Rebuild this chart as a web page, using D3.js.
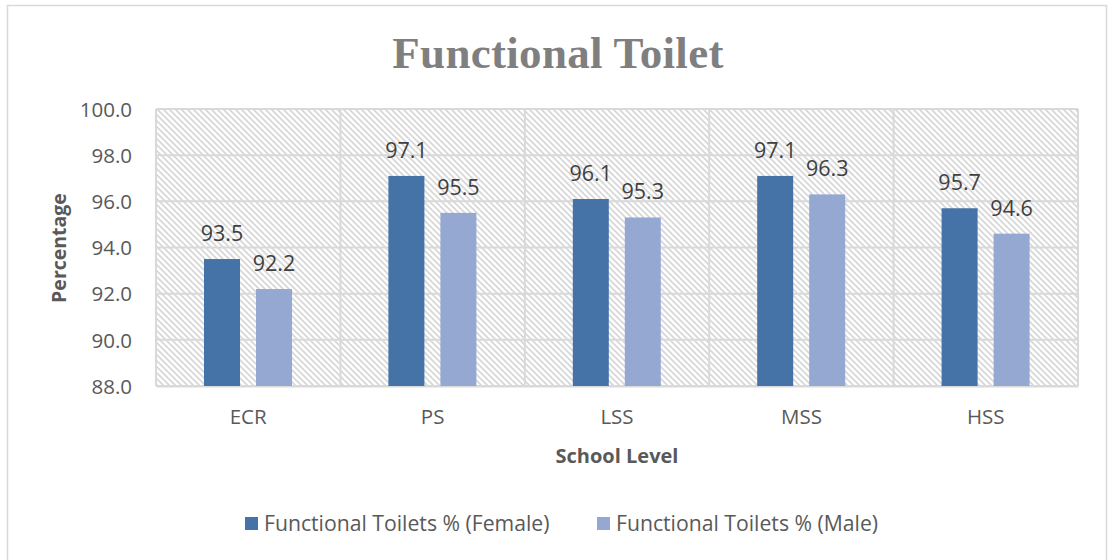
<!DOCTYPE html>
<html>
<head>
<meta charset="utf-8">
<script src="https://cdn.jsdelivr.net/npm/d3@7"></script>
<style>
  html, body { margin: 0; padding: 0; background: #fff; }
  svg { display: block; }
</style>
</head>
<body>
<svg id="chart" width="1110" height="560"></svg>
<script>
const categories = ["ECR", "PS", "LSS", "MSS", "HSS"];
const seriesNames = ["Functional Toilets % (Female)", "Functional Toilets % (Male)"];
const femaleValues = [93.5, 97.1, 96.1, 97.1, 95.7];
const maleValues = [92.2, 95.5, 95.3, 96.3, 94.6];
const yTicks = [88, 90, 92, 94, 96, 98, 100];
const colors = ["#4572a7", "#94a8d1"];

const svg = d3.select("#chart");
const font = "'Open Sans', 'Noto Sans', sans-serif";
const textColor = "#595959";

// Outer chart border
svg.append("rect").attr("x", 7.5).attr("y", 5.5).attr("width", 1099).attr("height", 560)
  .attr("fill", "#fff").attr("stroke", "#d9d9d9").attr("stroke-width", 1.5);

// Hatch pattern
const defs = svg.append("defs");
const pat = defs.append("pattern").attr("id", "hatch").attr("patternUnits", "userSpaceOnUse")
  .attr("width", 6).attr("height", 6);
pat.append("rect").attr("width", 6).attr("height", 6).attr("fill", "#fff");
pat.append("path").attr("d", "M-1,-1 L7,7 M-1,5 L1,7 M5,-1 L7,1")
  .attr("stroke", "#d6d6d6").attr("stroke-width", 1.6);

const plot = { left: 156, right: 1078, top: 109, bottom: 386 };

const x = d3.scaleBand().domain(categories).range([plot.left, plot.right]).paddingInner(0).paddingOuter(0);
const sub = d3.scaleBand().domain(seriesNames).range([48, 136]).paddingInner(16 / 52).paddingOuter(0);
const y = d3.scaleLinear().domain([88, 100]).range([plot.bottom, plot.top]);

// Plot background
svg.append("rect").attr("x", plot.left).attr("y", plot.top)
  .attr("width", plot.right - plot.left).attr("height", plot.bottom - plot.top)
  .attr("fill", "url(#hatch)");

// Horizontal gridlines
svg.append("g").selectAll("line").data(yTicks).join("line")
  .attr("x1", plot.left).attr("x2", plot.right)
  .attr("y1", d => y(d)).attr("y2", d => y(d))
  .attr("stroke", "#d9d9d9").attr("stroke-width", 2);

// Vertical gridlines at category boundaries
const bounds = categories.map(c => x(c)).concat([plot.right]);
svg.append("g").selectAll("line").data(bounds).join("line")
  .attr("x1", d => d).attr("x2", d => d)
  .attr("y1", plot.top).attr("y2", plot.bottom)
  .attr("stroke", "#d9d9d9").attr("stroke-width", 2);

// Y axis
const yAxis = d3.axisLeft(y).tickValues(yTicks).tickFormat(d3.format(".1f")).tickSize(0).tickPadding(24);
const yg = svg.append("g").attr("transform", `translate(${plot.left},0)`).call(yAxis);
yg.select(".domain").remove();
yg.selectAll("text").attr("font-family", font).attr("font-size", 20.5).attr("fill", textColor)
  .attr("dy", "0.35em");

// X axis
const xAxis = d3.axisBottom(x).tickSize(0).tickPadding(23);
const xg = svg.append("g").attr("transform", `translate(0,${plot.bottom})`).call(xAxis);
xg.select(".domain").attr("stroke", "#d9d9d9").attr("stroke-width", 2);
xg.selectAll("text").attr("font-family", font).attr("font-size", 20.5).attr("fill", textColor);

// Bars
const data = categories.map((c, i) => ({ cat: c, vals: [femaleValues[i], maleValues[i]] }));
const groups = svg.append("g").selectAll("g").data(data).join("g")
  .attr("transform", d => `translate(${x(d.cat)},0)`);

groups.selectAll("rect").data(d => d.vals.map((v, j) => ({ name: seriesNames[j], v, j })))
  .join("rect")
  .attr("x", d => sub(d.name))
  .attr("width", sub.bandwidth())
  .attr("y", d => y(d.v))
  .attr("height", d => y(88) - y(d.v))
  .attr("fill", d => colors[d.j]);

groups.selectAll("text").data(d => d.vals.map((v, j) => ({ name: seriesNames[j], v, j })))
  .join("text")
  .attr("x", d => sub(d.name) + sub.bandwidth() / 2)
  .attr("y", d => y(d.v) - 18)
  .attr("text-anchor", "middle")
  .attr("font-family", font).attr("font-size", 21.5).attr("fill", "#404040")
  .text(d => d3.format(".1f")(d.v));

// Title
svg.append("text").attr("x", 558).attr("y", 68).attr("text-anchor", "middle")
  .attr("font-family", "'Liberation Serif', 'DejaVu Serif', serif").attr("font-weight", "bold")
  .attr("font-size", 45).attr("letter-spacing", 0.3).attr("fill", "#7f7f7f")
  .text("Functional Toilet");

// Axis titles
svg.append("text").attr("x", 617).attr("y", 463).attr("text-anchor", "middle")
  .attr("font-family", font).attr("font-weight", "bold").attr("font-size", 20).attr("fill", textColor)
  .text("School Level");

svg.append("text").attr("transform", "translate(66,248) rotate(-90)").attr("text-anchor", "middle")
  .attr("font-family", font).attr("font-weight", "bold").attr("font-size", 19.5).attr("fill", textColor)
  .text("Percentage");

// Legend
const legendX = [245, 597];
const lg = svg.append("g").selectAll("g").data(seriesNames).join("g")
  .attr("transform", (d, i) => `translate(${legendX[i]},517)`);
lg.append("rect").attr("width", 13).attr("height", 13).attr("fill", (d, i) => colors[i]);
lg.append("text").attr("x", 19).attr("y", 6.5).attr("dy", "0.35em")
  .attr("font-family", font).attr("font-size", 21.2).attr("fill", textColor)
  .text(d => d);
</script>
</body>
</html>
